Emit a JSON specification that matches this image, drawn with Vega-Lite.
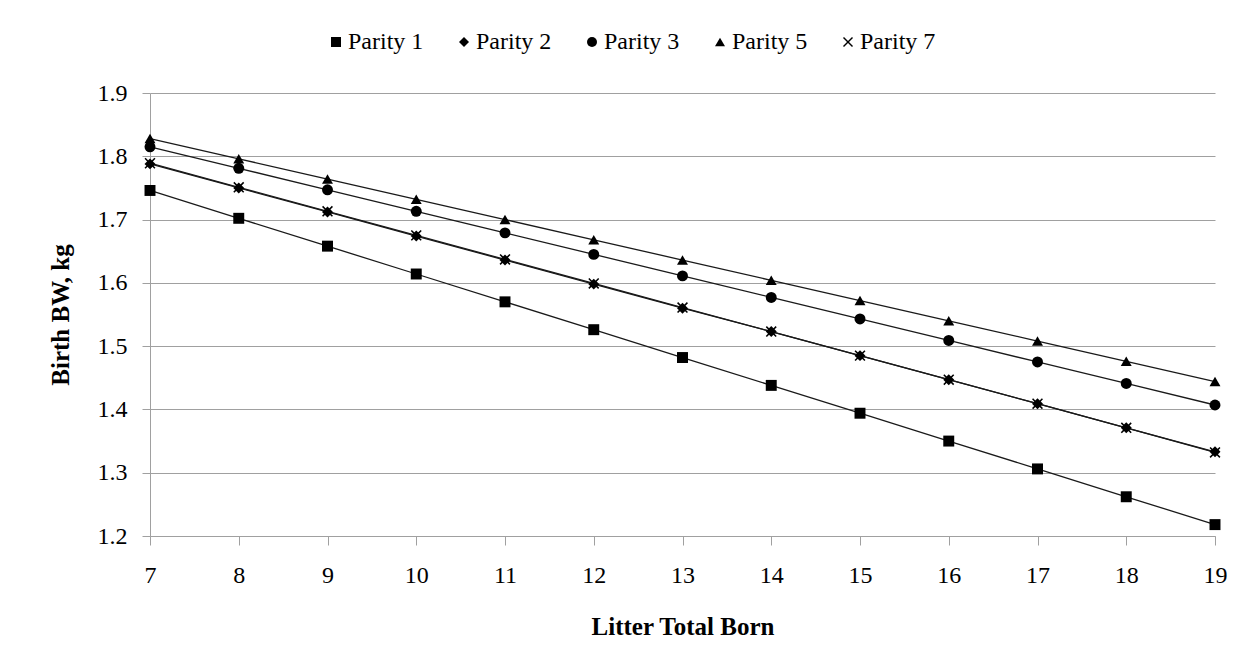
{
  "$schema": "https://vega.github.io/schema/vega-lite/v6.json",
  "width": 1065,
  "height": 443,
  "autosize": "none",
  "padding": {"left": 150, "top": 93, "right": 40, "bottom": 135},
  "background": "white",
  "config": {
    "font": "Liberation Serif",
    "view": {"stroke": null},
    "axis": {"labelFont": "Liberation Serif", "titleFont": "Liberation Serif", "labelColor": "black", "titleColor": "black"},
    "legend": {"labelFont": "Liberation Serif"}
  },
  "data": {
    "values": [
      {"x": 7, "y": 1.746, "s": "Parity 1"}, {"x": 8, "y": 1.702, "s": "Parity 1"}, {"x": 9, "y": 1.658, "s": "Parity 1"}, {"x": 10, "y": 1.614, "s": "Parity 1"}, {"x": 11, "y": 1.570, "s": "Parity 1"}, {"x": 12, "y": 1.526, "s": "Parity 1"}, {"x": 13, "y": 1.482, "s": "Parity 1"}, {"x": 14, "y": 1.438, "s": "Parity 1"}, {"x": 15, "y": 1.394, "s": "Parity 1"}, {"x": 16, "y": 1.350, "s": "Parity 1"}, {"x": 17, "y": 1.306, "s": "Parity 1"}, {"x": 18, "y": 1.262, "s": "Parity 1"}, {"x": 19, "y": 1.218, "s": "Parity 1"},
      {"x": 7, "y": 1.788, "s": "Parity 2"}, {"x": 8, "y": 1.750, "s": "Parity 2"}, {"x": 9, "y": 1.712, "s": "Parity 2"}, {"x": 10, "y": 1.674, "s": "Parity 2"}, {"x": 11, "y": 1.636, "s": "Parity 2"}, {"x": 12, "y": 1.598, "s": "Parity 2"}, {"x": 13, "y": 1.560, "s": "Parity 2"}, {"x": 14, "y": 1.523, "s": "Parity 2"}, {"x": 15, "y": 1.485, "s": "Parity 2"}, {"x": 16, "y": 1.447, "s": "Parity 2"}, {"x": 17, "y": 1.409, "s": "Parity 2"}, {"x": 18, "y": 1.371, "s": "Parity 2"}, {"x": 19, "y": 1.333, "s": "Parity 2"},
      {"x": 7, "y": 1.815, "s": "Parity 3"}, {"x": 8, "y": 1.781, "s": "Parity 3"}, {"x": 9, "y": 1.747, "s": "Parity 3"}, {"x": 10, "y": 1.713, "s": "Parity 3"}, {"x": 11, "y": 1.679, "s": "Parity 3"}, {"x": 12, "y": 1.645, "s": "Parity 3"}, {"x": 13, "y": 1.611, "s": "Parity 3"}, {"x": 14, "y": 1.577, "s": "Parity 3"}, {"x": 15, "y": 1.543, "s": "Parity 3"}, {"x": 16, "y": 1.509, "s": "Parity 3"}, {"x": 17, "y": 1.475, "s": "Parity 3"}, {"x": 18, "y": 1.441, "s": "Parity 3"}, {"x": 19, "y": 1.407, "s": "Parity 3"},
      {"x": 7, "y": 1.828, "s": "Parity 5"}, {"x": 8, "y": 1.796, "s": "Parity 5"}, {"x": 9, "y": 1.764, "s": "Parity 5"}, {"x": 10, "y": 1.732, "s": "Parity 5"}, {"x": 11, "y": 1.700, "s": "Parity 5"}, {"x": 12, "y": 1.668, "s": "Parity 5"}, {"x": 13, "y": 1.636, "s": "Parity 5"}, {"x": 14, "y": 1.604, "s": "Parity 5"}, {"x": 15, "y": 1.572, "s": "Parity 5"}, {"x": 16, "y": 1.540, "s": "Parity 5"}, {"x": 17, "y": 1.508, "s": "Parity 5"}, {"x": 18, "y": 1.476, "s": "Parity 5"}, {"x": 19, "y": 1.444, "s": "Parity 5"},
      {"x": 7, "y": 1.789, "s": "Parity 7"}, {"x": 8, "y": 1.751, "s": "Parity 7"}, {"x": 9, "y": 1.713, "s": "Parity 7"}, {"x": 10, "y": 1.675, "s": "Parity 7"}, {"x": 11, "y": 1.637, "s": "Parity 7"}, {"x": 12, "y": 1.599, "s": "Parity 7"}, {"x": 13, "y": 1.561, "s": "Parity 7"}, {"x": 14, "y": 1.523, "s": "Parity 7"}, {"x": 15, "y": 1.485, "s": "Parity 7"}, {"x": 16, "y": 1.447, "s": "Parity 7"}, {"x": 17, "y": 1.409, "s": "Parity 7"}, {"x": 18, "y": 1.371, "s": "Parity 7"}, {"x": 19, "y": 1.332, "s": "Parity 7"}
    ]
  },
  "encoding": {
    "x": {
      "field": "x", "type": "quantitative",
      "scale": {"domain": [7, 19], "nice": false, "zero": false},
      "axis": {
        "title": "Litter Total Born", "values": [7,8,9,10,11,12,13,14,15,16,17,18,19],
        "grid": false, "domainColor": "#a0a0a0", "tickColor": "#a0a0a0", "tickSize": 9,
        "labelFontSize": 24, "labelPadding": 18, "labelFlush": false,
        "titleFontSize": 25, "titleFontWeight": "bold", "titlePadding": 27
      }
    },
    "y": {
      "field": "y", "type": "quantitative",
      "scale": {"domain": [1.2, 1.9], "nice": false, "zero": false},
      "axis": {
        "title": "Birth BW, kg", "values": [1.2,1.3,1.4,1.5,1.6,1.7,1.8,1.9], "format": ".1f",
        "grid": true, "gridColor": "#a0a0a0", "gridWidth": 1, "domainColor": "#a0a0a0", "tickColor": "#a0a0a0", "tickSize": 8,
        "labelFontSize": 24, "labelPadding": 15, "labelFlush": false,
        "titleFontSize": 25, "titleFontWeight": "bold", "titlePadding": 24
      }
    }
  },
  "layer": [
    {
      "mark": {"type": "line", "color": "#1a1a1a", "strokeWidth": 1.3},
      "encoding": {"detail": {"field": "s", "type": "nominal"}}
    },
    {
      "mark": {"type": "point", "filled": true, "color": "black", "opacity": 1, "size": 120},
      "encoding": {
        "shape": {
          "field": "s", "type": "nominal",
          "scale": {"domain": ["Parity 1", "Parity 2", "Parity 3", "Parity 5", "Parity 7"], "range": ["square", "diamond", "circle", "triangle-up", "M-1,-0.8L-0.8,-1L0,-0.2L0.8,-1L1,-0.8L0.2,0L1,0.8L0.8,1L0,0.2L-0.8,1L-1,0.8L-0.2,0Z"]},
          "legend": {
            "title": null, "orient": "none", "direction": "horizontal", "legendX": 174, "legendY": -63,
            "labelFontSize": 24, "labelColor": "black", "labelOffset": 0,
            "symbolSize": 100, "symbolFillColor": "black", "symbolOpacity": 1,
            "columnPadding": 28
          }
        }
      }
    }
  ]
}
